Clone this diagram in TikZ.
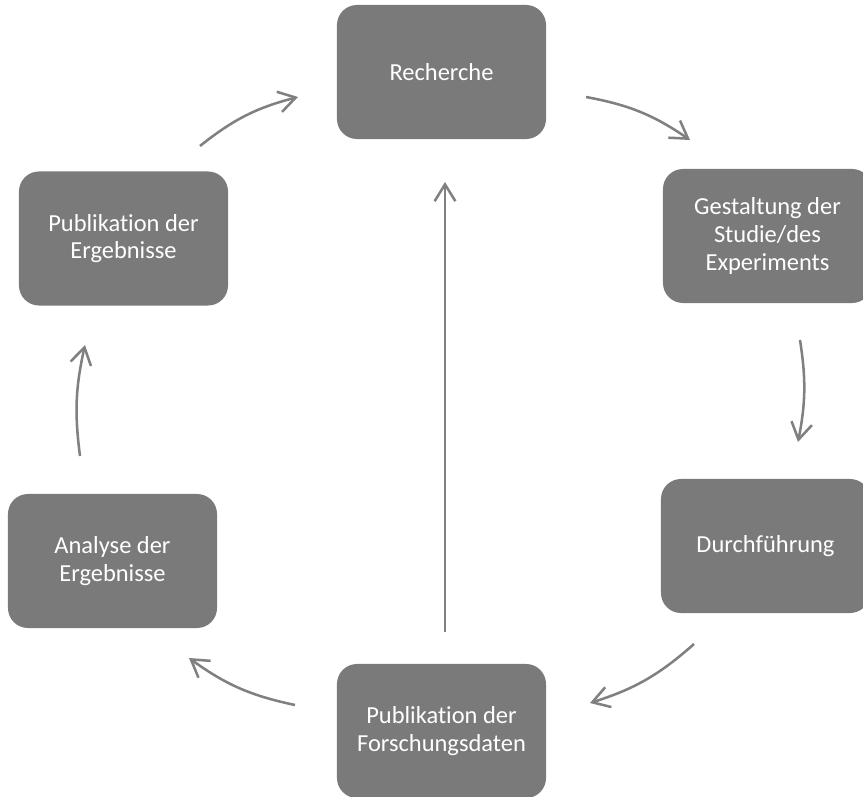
\documentclass[tikz,border=0pt]{standalone}
\usepackage{fontspec}
\setmainfont{Carlito}[Ligatures=NoCommon]
\usepackage{xcolor}
\usetikzlibrary{arrows.meta,positioning}
\definecolor{boxgray}{HTML}{7A7A7A}
\definecolor{arrowgray}{HTML}{808080}

\begin{document}
\begin{tikzpicture}[
  x=0.025cm,
  y=0.025cm,
  stepbox/.style={rectangle, rounded corners=0.5cm, fill=boxgray, text=white,
    minimum width=5.225cm, minimum height=3.35cm, align=center,
    font=\fontsize{17.4pt}{19.6pt}\selectfont},
  flow/.style={draw=arrowgray, line width=1.8pt,
    -{Straight Barb[length=4.2mm, width=5.2mm, line width=1.8pt]}},
  every node/.style={inner sep=0pt}
]
\useasboundingbox (0,0) rectangle (863,797);

% steps of the cycle
\node[stepbox] (rech) at (441.5,725) {Recherche};
\node[stepbox] (gest) at (767.5,561) {Gestaltung der\\Studie/des\\Experiments};
\node[stepbox] (durch) at (765.5,251) {Durchführung};
\node[stepbox] (fdat) at (441.5,66) {Publikation der\\Forschungsdaten};
\node[stepbox] (anal) at (112.5,236) {Analyse der\\Ergebnisse};
\node[stepbox] (perg) at (123.5,558.5) {Publikation der\\Ergebnisse};

% free ends of the arrows
\coordinate (a1s) at (200,651);  \coordinate (a1e) at (298,700);
\coordinate (a2s) at (586,700);  \coordinate (a2e) at (690,657);
\coordinate (a3s) at (800,457);  \coordinate (a3e) at (798,355);
\coordinate (a4s) at (694,153);  \coordinate (a4e) at (590,94);
\coordinate (a5s) at (295,92);   \coordinate (a5e) at (189,139);
\coordinate (a6s) at (80,341);   \coordinate (a6e) at (85,452);
\coordinate (a7s) at (445,165);  \coordinate (a7e) at (445,615);

\draw[flow] (a1s) to[bend left=12] (a1e);
\draw[flow] (a2s) to[bend left=12] (a2e);
\draw[flow] (a3s) to[bend left=10] (a3e);
\draw[flow] (a4s) to[bend left=12] (a4e);
\draw[flow] (a5s) to[bend left=12] (a5e);
\draw[flow] (a6s) to[bend left=10] (a6e);
\draw[flow] (a7s) -- (a7e);
\end{tikzpicture}
\end{document}
